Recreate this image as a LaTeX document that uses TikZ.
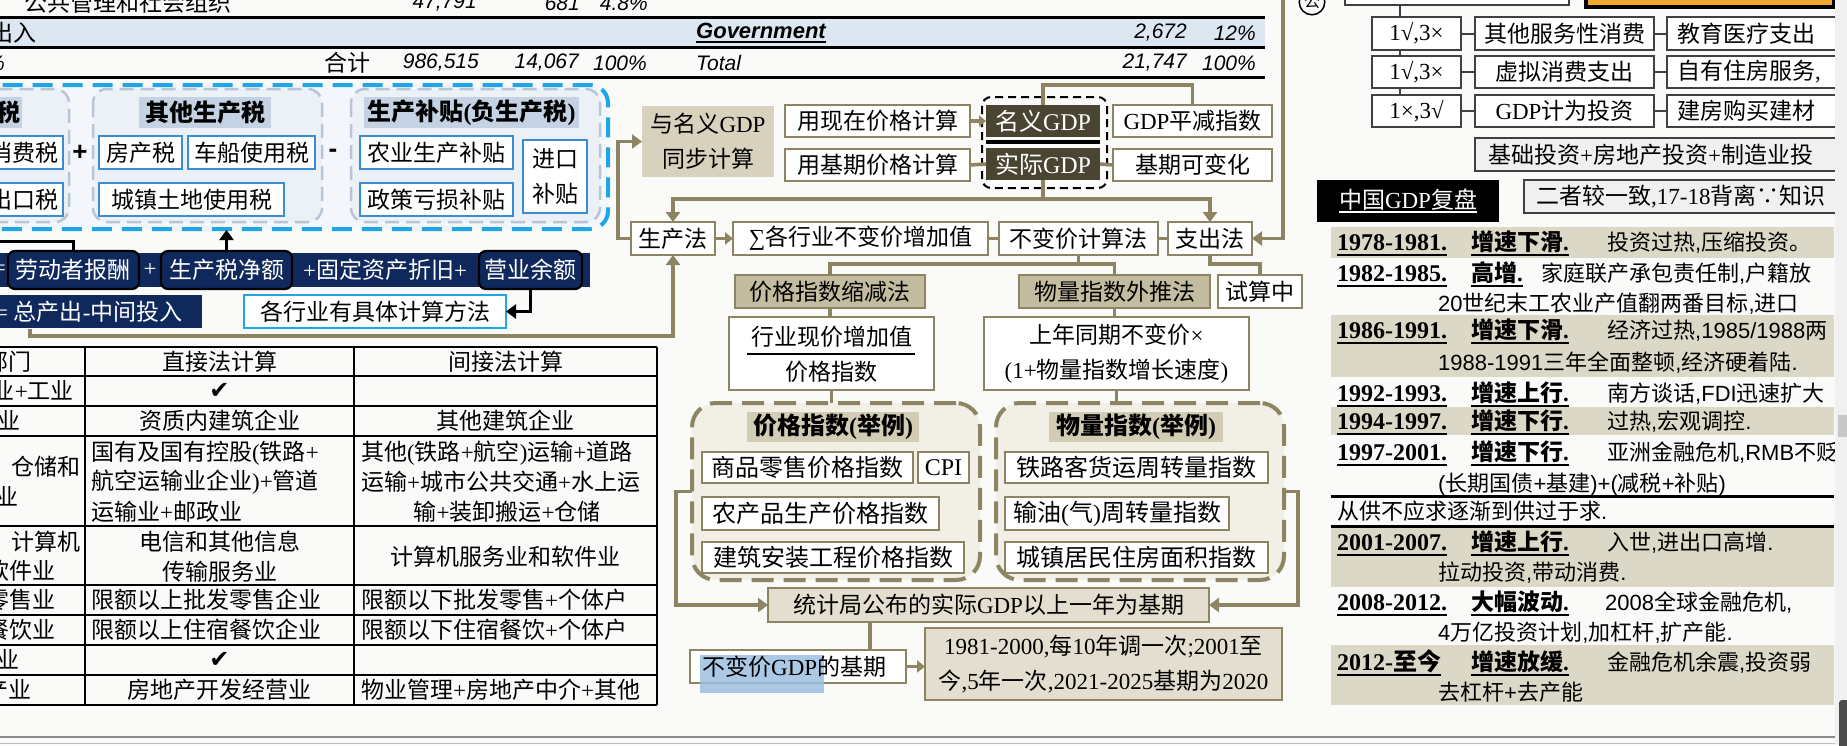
\documentclass[tikz,border=0pt]{standalone}
\usepackage{fontspec}
\setmainfont{Liberation Serif}
\setsansfont{Liberation Sans}
\newfontfamily\cjkfam{Noto Sans CJK SC}
\newfontfamily\djv{DejaVu Sans}
\usetikzlibrary{arrows.meta}
\newcount\cjkc
\newXeTeXintercharclass\CJKcls
\def\cjkrange#1#2{\cjkc=#1 \loop\XeTeXcharclass\cjkc=\CJKcls\ifnum\cjkc<#2 \advance\cjkc by 1 \repeat}
\cjkrange{"3000}{"303F}
\cjkrange{"4E00}{"9FFF}
\cjkrange{"FF01}{"FF5E}
\XeTeXcharclass"2235=\CJKcls
\def\latfam{\rmfamily}
\XeTeXinterchartoks 0 \CJKcls={\cjkfam}
\XeTeXinterchartoks 4095 \CJKcls={\cjkfam}
\XeTeXinterchartoks \CJKcls 0={\latfam}
\XeTeXinterchartoks \CJKcls 4095={\latfam}
\XeTeXinterchartokenstate=1
\newcommand\fs[1]{\fontsize{#1}{35}\selectfont}
\newcommand\sfl{\sffamily\def\latfam{\sffamily}}
\newcommand\ulx[1]{\setbox0=\hbox{#1}\leavevmode\rlap{\vrule width\wd0 height -3.5pt depth 6pt}\box0}
\newcommand\ulthin[1]{\setbox0=\hbox{#1}\leavevmode\rlap{\vrule width\wd0 height -3pt depth 5pt}\box0}
\newcommand\mkbox[7]{%
 \pgfmathsetmacro\bxw{#4-(#2)}\pgfmathsetmacro\bxh{#5-(#3)}%
 \pgfmathsetmacro\bxx{(#2+#4)/2}\pgfmathsetmacro\bxy{(#3+#5)/2}%
 \node[#6,minimum width=\bxw pt,minimum height=\bxh pt] (#1) at (\bxx,\bxy) {#7};}
\definecolor{olv}{HTML}{8C8462}
\definecolor{tanA}{HTML}{D8D1BD}
\definecolor{tanB}{HTML}{C4BC9E}
\definecolor{tanC}{HTML}{E3DECF}
\definecolor{tanD}{HTML}{D3CCB4}
\definecolor{pan}{HTML}{F2EFE7}
\definecolor{dkol}{HTML}{4A4532}
\definecolor{navy}{HTML}{10295C}
\definecolor{skyb}{HTML}{1FA6E6}
\definecolor{gpan}{HTML}{B9C5D5}
\definecolor{gfill}{HTML}{ECF1F7}
\definecolor{bpfill}{HTML}{F3F6FA}
\definecolor{tfill}{HTML}{C4D2E4}
\definecolor{ibd}{HTML}{3B8DD2}
\definecolor{rowb}{HTML}{DDE7F2}
\definecolor{tl}{HTML}{DCD8C7}
\definecolor{bg}{HTML}{FAFAF9}
\definecolor{hl}{HTML}{9DBFE0}
\definecolor{orng}{HTML}{F0A830}
\tikzset{
 ob/.style={draw=olv, line width=1.6pt, fill=white, inner sep=0pt, outer sep=0pt, align=center, font=\fs{23}},
 tb/.style={ob, fill=tanB},
 dk/.style={fill=dkol, text=white, inner sep=0pt, outer sep=0pt, font=\fs{24}},
 dpan/.style={draw=olv, line width=4pt, dash pattern=on 22pt off 10pt, rounded corners=24pt, fill=pan, inner sep=0pt, outer sep=0pt},
 conn/.style={draw=olv, line width=3.5pt},
 arr/.style={-{Triangle[width=14pt,length=10pt]}},
 blk/.style={draw=black, line width=3pt},
 num/.style={font=\fs{21}\sffamily\itshape, inner sep=0pt},
 ttl/.style={fill=tfill, inner sep=0pt, outer sep=0pt, font=\fs{24}\bfseries},
 itm/.style={draw=ibd, line width=1.5pt, fill=white, inner sep=0pt, outer sep=0pt, font=\fs{23}, align=center},
 navyb/.style={fill=navy, inner sep=0pt, outer sep=0pt},
 nbx/.style={draw=black, line width=2.2pt, rounded corners=7pt, fill=navy, text=white, inner sep=0pt, outer sep=0pt, font=\fs{23}},
 wt/.style={text=white, inner sep=0pt, font=\fs{23}},
 tx/.style={inner sep=0pt, font=\fs{23}},
 gbx/.style={draw=black!75, line width=1.8pt, fill=white, inner sep=0pt, outer sep=0pt, font=\fs{23}},
 gln/.style={draw=black!75, line width=2pt},
 yrs/.style={anchor=base west, inner sep=0pt, font=\fs{24}\bfseries},
 tag/.style={anchor=base west, inner sep=0pt, font=\fs{23}\bfseries},
 dsc/.style={anchor=base west, inner sep=0pt, font=\fs{22}\sfl},
 tline/.style={line width=2.5pt}
}
\begin{document}
\begin{tikzpicture}[x=1pt,y=-1pt]
\useasboundingbox (0,0) rectangle (1847,745);
\fill[bg] (0,0) rectangle (1847,745);

% ---------- top table
\fill[rowb] (0,18.5) rectangle (1265,45.5);
\draw[line width=3pt] (0,17) -- (1265,17);
\draw[line width=3pt] (0,47) -- (1265,47);
\draw[line width=3pt] (0,77) -- (1265,77);
\node[tx, anchor=west] (tp1) at (24,3) {公共管理和社会组织};
\node[num, anchor=east] (tp2) at (477,3) {47,791};
\node[num, anchor=east] (tp3) at (580,3) {681};
\node[num, anchor=east] (tp4) at (648,3) {4.8\%};
\node[tx, anchor=west] (tq1) at (-10,33) {出入};
\node[num, anchor=west, font=\fs{22}\sffamily\bfseries\itshape] (tq2) at (696,33) {\ulthin{Government}};
\node[num, anchor=east] (tq3) at (1187,33) {2,672};
\node[num, anchor=east] (tq4) at (1256,33) {12\%};
\node[num, anchor=east] (tr0) at (5,63) {100\%};
\node[tx] (tr1) at (347,63) {合计};
\node[num, anchor=east] (tr2) at (479,63) {986,515};
\node[num, anchor=east] (tr3) at (579,63) {14,067};
\node[num, anchor=east] (tr4) at (647,63) {100\%};
\node[num, anchor=west] (tr5) at (696,63) {Total};
\node[num, anchor=east] (tr6) at (1187,63) {21,747};
\node[num, anchor=east] (tr7) at (1256,63) {100\%};

% ---------- blue panel
\draw[skyb, line width=4pt, dash pattern=on 20pt off 10pt, rounded corners=18pt, fill=bpfill] (-30,85) rectangle (608,229);
\draw[gpan, line width=2.5pt, dash pattern=on 14pt off 7pt, rounded corners=14pt, fill=gfill] (-40,89) rectangle (69,222);
\draw[gpan, line width=2.5pt, dash pattern=on 14pt off 7pt, rounded corners=14pt, fill=gfill] (93,89) rectangle (322,222);
\draw[gpan, line width=2.5pt, dash pattern=on 14pt off 7pt, rounded corners=14pt, fill=gfill] (351,89) rectangle (600,222);
\mkbox{tt1}{-40}{97}{22}{128}{ttl}{}
\node[anchor=east, inner sep=0pt, font=\fs{24}\bfseries] (tt1t) at (21,112.5) {税};
\mkbox{tt2}{139}{97}{271}{128}{ttl}{其他生产税}
\mkbox{tt3}{364}{97}{579}{128}{ttl}{生产补贴(负生产税)}
\mkbox{i1}{-40}{136}{63}{169}{itm}{}
\node[tx, anchor=east] (i1t) at (59,152.5) {消费税};
\mkbox{i2}{-40}{183}{63}{216}{itm}{}
\node[tx, anchor=east] (i2t) at (59,199.5) {出口税};
\node[inner sep=0pt, font=\fs{26}\bfseries\sffamily] (plus1) at (80,153) {+};
\mkbox{i3}{99}{136}{182}{169}{itm}{房产税}
\mkbox{i4}{188}{136}{315}{169}{itm}{车船使用税}
\mkbox{i5}{99}{183}{284}{216}{itm}{城镇土地使用税}
\node[inner sep=0pt, font=\fs{26}\bfseries\sffamily] (minus1) at (333,153) {-};
\mkbox{i6}{360}{136}{513}{169}{itm}{农业生产补贴}
\mkbox{i7}{360}{183}{513}{216}{itm}{政策亏损补贴}
\mkbox{i8}{523}{140}{587}{213}{itm}{进口\\补贴}

% ---------- navy bars
\mkbox{nav1}{-10}{253}{590}{287}{navyb}{}
\mkbox{nb1}{8}{251}{139}{289}{nbx}{劳动者报酬}
\mkbox{nb2}{161}{251}{292}{289}{nbx}{生产税净额}
\mkbox{nb3}{479}{251}{582}{289}{nbx}{营业余额}
\node[wt, anchor=east] (eq1) at (6,270) {=};
\node[wt] (pl1) at (150,270) {+};
\node[wt] (pl2) at (385,270) {+固定资产折旧+};
\mkbox{nav2}{-10}{295}{202}{328}{navyb}{}
\node[wt, anchor=west] (nav2t) at (-5,311.5) {= 总产出-中间投入};
\mkbox{gh}{244}{295}{506}{328}{draw=skyb, line width=2.2pt, fill=white, inner sep=0pt, outer sep=0pt, font=\fs{23}}{各行业有具体计算方法}
\coordinate (pb) at (226.5,230);
\coordinate (lb) at (-5,241);
\draw[blk, arr] (nb2.north) -- (pb);
\draw[blk] (nb1.north) |- (lb);
\draw[blk, arr] (nb3.south) |- (gh.east);

% ---------- middle flow
\mkbox{sync}{642}{106}{774}{177}{fill=tanA, inner sep=0pt, outer sep=0pt, font=\fs{23}, align=center}{与名义GDP\\同步计算}
\mkbox{cur}{785}{105}{970}{137}{ob}{用现在价格计算}
\mkbox{base}{785}{149}{970}{181}{ob}{用基期价格计算}
\draw[black, line width=2pt, dash pattern=on 8pt off 5pt, rounded corners=9pt] (982,97) rectangle (1107,188);
\mkbox{nom}{986}{105}{1100}{137}{dk}{名义GDP}
\fill[black] (986,139.5) rectangle (1100,143.5);
\mkbox{real}{986}{148}{1100}{180}{dk}{实际GDP}
\mkbox{defl}{1113}{105}{1272}{137}{ob}{GDP平减指数}
\mkbox{var}{1113}{149}{1272}{181}{ob}{基期可变化}
\draw[conn, -{Triangle[width=11pt,length=7pt]}] (cur.east) -- (nom.west);
\draw[conn] (base.east) -- (real.west);
\draw[conn] (real.east) -- (var.west);
\draw[conn] (nom.north) -- ++(0,-20) -| (defl.north);

\mkbox{sc}{631}{222}{715}{255}{ob}{生产法}
\mkbox{sum}{733}{222}{988}{255}{ob}{∑各行业不变价增加值}
\mkbox{bj}{999}{222}{1158}{255}{ob}{不变价计算法}
\mkbox{zc}{1168}{222}{1252}{255}{ob}{支出法}
\coordinate (j1) at (1043,199);
\draw[conn] (real.south) -- (j1);
\draw[conn, arr] (j1) -| (sc.north);
\draw[conn, arr] (j1) -| (zc.north);
\draw[conn, -{Triangle[width=12pt,length=8pt]}] (sc.east) -- (sum.west);
\draw[conn] (sum.east) -- (bj.west);
\draw[conn] (bj.east) -- (zc.west);
\coordinate (rtop) at (1283,-5);
\draw[conn, arr] (rtop) |- (zc.east);
\draw[conn, arr] (sc.west) -- ++(-13,0) |- (sync.west);
\coordinate (s1) at (30,329);
\draw[conn, arr] (s1) -- ++(0,7) -| (sc.south);

\mkbox{pm}{735}{275}{925}{308}{tb}{价格指数缩减法}
\mkbox{qm}{1019}{275}{1210}{308}{tb}{物量指数外推法}
\mkbox{ts}{1218}{275}{1302}{308}{ob}{试算中}
\coordinate (j2) at (1078.5,264);
\draw[conn] (bj.south) -- (j2);
\draw[conn] (j2) -| (pm.north);
\draw[conn] (j2) -| (qm.north);
\draw[conn] (zc.south) -- ++(0,9) -| (ts.north);

\mkbox{fr}{729}{317}{934}{390}{ob}{}
\node[tx] (fr1) at (831.5,337) {行业现价增加值};
\draw[black, line width=2pt] (747,354) -- (915,354);
\node[tx] (fr2) at (831.5,372) {价格指数};
\mkbox{ex}{984}{317}{1249}{390}{ob}{上年同期不变价×\\(1+物量指数增长速度)}
\draw[conn] (pm.south) -- (pm.south |- fr.north);
\draw[conn] (qm.south) -- (qm.south |- ex.north);

\mkbox{pbox}{692}{403}{980}{580}{dpan}{}
\mkbox{qbox}{996}{403}{1284}{580}{dpan}{}
\draw[conn] (fr.south) -- (fr.south |- pbox.north);
\draw[conn] (ex.south) -- (ex.south |- qbox.north);
\mkbox{pt}{747}{412}{919}{442}{fill=tanD, inner sep=0pt, outer sep=0pt, font=\fs{24}\bfseries}{价格指数(举例)}
\mkbox{qt}{1049}{412}{1223}{442}{fill=tanD, inner sep=0pt, outer sep=0pt, font=\fs{24}\bfseries}{物量指数(举例)}
\mkbox{p1}{702}{452}{913}{483}{ob, font=\fs{24}}{商品零售价格指数}
\mkbox{p2}{918}{452}{969}{483}{ob, font=\fs{24}}{CPI}
\mkbox{p3}{702}{497}{939}{530}{ob, font=\fs{24}}{农产品生产价格指数}
\mkbox{p4}{702}{542}{964}{573}{ob, font=\fs{24}}{建筑安装工程价格指数}
\mkbox{q1}{1005}{452}{1268}{483}{ob, font=\fs{24}}{铁路客货运周转量指数}
\mkbox{q2}{1005}{497}{1229}{530}{ob, font=\fs{24}}{输油(气)周转量指数}
\mkbox{q3}{1005}{542}{1268}{573}{ob, font=\fs{24}}{城镇居民住房面积指数}

\mkbox{tj}{768}{588}{1209}{622}{ob, fill=tanC}{统计局公布的实际GDP以上一年为基期}
\draw[conn, arr] (pbox.west) -- ++(-16,0) |- (tj.west);
\draw[conn, arr] (qbox.east) -- ++(14,0) |- (tj.east);
\mkbox{nb}{690}{650}{906}{683}{ob}{}
\fill[hl, opacity=0.85] (700,655) rectangle (824,693);
\node[tx, anchor=west] (nbt) at (702,666.5) {不变价GDP的基期};
\coordinate (c870) at (870,622);
\draw[conn] (c870) -- (c870 |- nb.north);
\mkbox{yr}{925}{628}{1282}{700}{ob, fill=tanC}{1981-2000,每10年调一次;2001至\\今,5年一次,2021-2025基期为2020}
\draw[conn, -{Triangle[width=12pt,length=8pt]}] (nb.east) -- (nb.east -| yr.west);

% ---------- left table
\foreach \yy in {347,376,406,436,526,585,615,645,675,705} \draw[tline] (-5,\yy) -- (657,\yy);
\foreach \xx in {85,354,657} \draw[tline] (\xx,347) -- (\xx,705);
\node[tx, anchor=east] (a1) at (32,361.5) {部门};
\node[tx] (b1) at (219.5,361.5) {直接法计算};
\node[tx] (c1) at (505.5,361.5) {间接法计算};
\node[tx, anchor=east] (a2) at (74,391) {农业+工业};
\node[inner sep=0pt, font=\fs{24}\djv] (b2) at (219.5,391) {✔};
\node[tx, anchor=east] (a3) at (21,421) {建筑业};
\node[tx] (b3) at (219.5,421) {资质内建筑企业};
\node[tx] (c3) at (505.5,421) {其他建筑企业};
\node[tx, anchor=east] (a4) at (81,467) {交通运输、仓储和};
\node[tx, anchor=east] (a4b) at (19,497) {邮政业};
\node[tx, anchor=west] (b4a) at (91,453) {国有及国有控股(铁路+};
\node[tx, anchor=west] (b4b) at (91,482) {航空运输业企业)+管道};
\node[tx, anchor=west] (b4c) at (91,512) {运输业+邮政业};
\node[tx, anchor=west] (c4a) at (361,453) {其他(铁路+航空)运输+道路};
\node[tx, anchor=west] (c4b) at (361,482) {运输+城市公共交通+水上运};
\node[tx] (c4c) at (507,512) {输+装卸搬运+仓储};
\node[tx, anchor=east] (a5) at (81,542) {信息传输、计算机};
\node[tx, anchor=east] (a5b) at (56,571) {服务和软件业};
\node[tx] (b5a) at (219.5,542) {电信和其他信息};
\node[tx] (b5b) at (219.5,572) {传输服务业};
\node[tx] (c5) at (505.5,557) {计算机服务业和软件业};
\node[tx, anchor=east] (a6) at (56,600) {批发和零售业};
\node[tx, anchor=west] (b6) at (91,600) {限额以上批发零售企业};
\node[tx, anchor=west] (c6) at (361,600) {限额以下批发零售+个体户};
\node[tx, anchor=east] (a7) at (56,630) {住宿和餐饮业};
\node[tx, anchor=west] (b7) at (91,630) {限额以上住宿餐饮企业};
\node[tx, anchor=west] (c7) at (361,630) {限额以下住宿餐饮+个体户};
\node[tx, anchor=east] (a8) at (20,660) {金融业};
\node[inner sep=0pt, font=\fs{24}\djv] (b8) at (219.5,660) {✔};
\node[tx, anchor=east] (a9) at (32,690) {房地产业};
\node[tx] (b9) at (219.5,690) {房地产开发经营业};
\node[tx, anchor=west] (c9) at (361,690) {物业管理+房地产中介+其他};

% ---------- right column
\begin{scope}
\clip (1288,-20) rectangle (1835,760);
\node[draw, circle, line width=1.5pt, inner sep=1.5pt, font=\fs{16}] (gong) at (1312,2) {公};
\coordinate (tv1) at (1400,4);
\coordinate (tv2) at (1400,96);
\draw[gln] (tv1) -- (tv2);
\mkbox{tb1}{1345}{-20}{1569}{5}{gbx}{}
\mkbox{tb2}{1586}{-20}{1834}{7}{draw=black, line width=4pt, fill=orng, inner sep=0pt, outer sep=0pt}{}
\mkbox{r1a}{1372}{17}{1461}{50}{gbx}{1√,3×}
\mkbox{r1b}{1475}{17}{1654}{50}{gbx}{其他服务性消费}
\mkbox{r1c}{1667}{17}{1880}{50}{gbx}{}
\node[tx, anchor=west] (r1ct) at (1677,33.5) {教育医疗支出};
\mkbox{r2a}{1372}{56}{1461}{88}{gbx}{1√,3×}
\mkbox{r2b}{1475}{56}{1654}{88}{gbx}{虚拟消费支出}
\mkbox{r2c}{1667}{56}{1880}{88}{gbx}{}
\node[tx, anchor=west] (r2ct) at (1677,72) {自有住房服务,};
\mkbox{r3a}{1372}{95}{1461}{127}{gbx}{1×,3√}
\mkbox{r3b}{1475}{95}{1654}{127}{gbx}{GDP计为投资}
\mkbox{r3c}{1667}{95}{1880}{127}{gbx}{}
\node[tx, anchor=west] (r3ct) at (1677,111) {建房购买建材};
\draw[gln] (r1a.east) -- (r1b.west); \draw[gln] (r1b.east) -- (r1c.west);
\draw[gln] (r2a.east) -- (r2b.west); \draw[gln] (r2b.east) -- (r2c.west);
\draw[gln] (r3a.east) -- (r3b.west); \draw[gln] (r3b.east) -- (r3c.west);
\mkbox{jc}{1475}{138}{1880}{171}{gbx, fill=black!6}{}
\node[tx, anchor=west] (jct) at (1488,154.5) {基础投资+房地产投资+制造业投};
\mkbox{gdp}{1317}{180}{1499}{222}{fill=black, text=white, inner sep=0pt, outer sep=0pt, font=\fs{23}}{\ulthin{中国GDP复盘}}
\mkbox{ez}{1524}{180}{1880}{213}{gbx, fill=black!6}{}
\node[tx, anchor=west] (ezt) at (1536,196.5) {二者较一致,17-18背离∵知识};
\fill[tl] (1331,227) rectangle (1834,258);
\fill[tl] (1331,315) rectangle (1834,377);
\fill[tl] (1331,407) rectangle (1834,435);
\fill[tl] (1331,527) rectangle (1834,587);
\fill[tl] (1331,645) rectangle (1834,705);
\draw[line width=3pt] (1331,496) -- (1834,496);
\draw[line width=3pt] (1331,526) -- (1834,526);
\node[yrs] (y1) at (1337,250) {\ulx{1978-1981.}};
\node[tag] (g1) at (1471,250) {\ulx{增速下滑.}};
\node[dsc] (d1) at (1607,250) {投资过热,压缩投资。};
\node[yrs] (y2) at (1337,281) {\ulx{1982-1985.}};
\node[tag] (g2) at (1471,281) {\ulx{高增.}};
\node[dsc] (d2) at (1541,281) {家庭联产承包责任制,户籍放};
\node[dsc] (d2b) at (1438,311) {20世纪末工农业产值翻两番目标,进口};
\node[yrs] (y3) at (1337,338) {\ulx{1986-1991.}};
\node[tag] (g3) at (1471,338) {\ulx{增速下滑.}};
\node[dsc] (d3) at (1607,338) {经济过热,1985/1988两};
\node[dsc] (d3b) at (1438,370) {1988-1991三年全面整顿,经济硬着陆.};
\node[yrs] (y4) at (1337,401) {\ulx{1992-1993.}};
\node[tag] (g4) at (1471,401) {\ulx{增速上行.}};
\node[dsc] (d4) at (1607,401) {南方谈话,FDI迅速扩大};
\node[yrs] (y5) at (1337,429) {\ulx{1994-1997.}};
\node[tag] (g5) at (1471,429) {\ulx{增速下行.}};
\node[dsc] (d5) at (1607,429) {过热,宏观调控.};
\node[yrs] (y6) at (1337,460) {\ulx{1997-2001.}};
\node[tag] (g6) at (1471,460) {\ulx{增速下行.}};
\node[dsc] (d6) at (1607,460) {亚洲金融危机,RMB不贬};
\node[dsc] (d6b) at (1438,491) {(长期国债+基建)+(减税+补贴)};
\node[dsc] (d7) at (1337,519) {从供不应求逐渐到供过于求.};
\node[yrs] (y8) at (1337,550) {\ulx{2001-2007.}};
\node[tag] (g8) at (1471,550) {\ulx{增速上行.}};
\node[dsc] (d8) at (1607,550) {入世,进出口高增.};
\node[dsc] (d8b) at (1438,580) {拉动投资,带动消费.};
\node[yrs] (y9) at (1337,610) {\ulx{2008-2012.}};
\node[tag] (g9) at (1471,610) {\ulx{大幅波动.}};
\node[dsc] (d9) at (1605,610) {2008全球金融危机,};
\node[dsc] (d9b) at (1438,640) {4万亿投资计划,加杠杆,扩产能.};
\node[yrs] (y10) at (1337,670) {\ulx{2012-至今}};
\node[tag] (g10) at (1471,670) {\ulx{增速放缓.}};
\node[dsc] (d10) at (1607,670) {金融危机余震,投资弱};
\node[dsc] (d10b) at (1438,700) {去杠杆+去产能};
\end{scope}

% ---------- screen edges
\fill[black!6] (1835,0) rectangle (1847,745);
\fill[black!22] (1838,415) rectangle (1847,437);
\fill[black!70, rounded corners=3pt] (1839,700) rectangle (1852,752);
\draw[black!45, line width=1.5pt] (0,737) -- (1835,737);
\draw[black!25, line width=1pt] (0,743) -- (1835,743);
\end{tikzpicture}
\end{document}
